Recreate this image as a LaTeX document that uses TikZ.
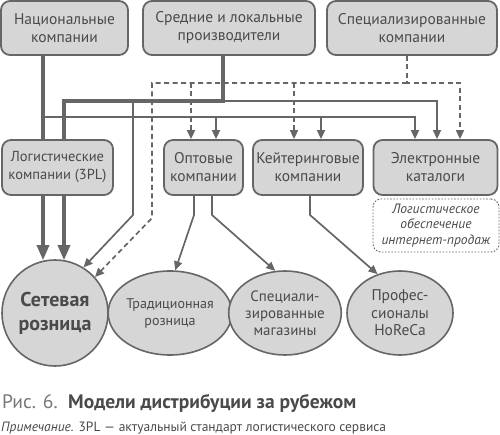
\documentclass[tikz,border=0pt]{standalone}
\usepackage{fontspec}
\setmainfont{PT Sans}
\usetikzlibrary{arrows.meta,shapes.geometric}
\definecolor{ln}{HTML}{666666}
\definecolor{bx}{HTML}{D6D6D6}
\definecolor{tx}{HTML}{4A4A4A}
\definecolor{lt}{HTML}{777777}
\begin{document}
\begin{tikzpicture}[x=1pt,y=-1pt,
  box/.style={draw=ln,line width=1.8pt,fill=bx,rounded corners=9pt,text=tx,align=center,
    font=\fontsize{15.5}{18}\selectfont,minimum height=54pt,inner sep=0pt},
  oval/.style={ellipse,draw=ln,line width=1.6pt,fill=bx,text=tx,align=center,inner sep=0pt,
    minimum width=106pt,minimum height=84pt},
  thinl/.style={draw=ln,line width=1.7pt},
  thickl/.style={draw=ln,line width=3.2pt},
  dsh/.style={draw=ln,line width=1.7pt,dash pattern=on 5pt off 3.5pt},
  tip/.style={-{Triangle[length=9pt,width=8pt]}},
  bigtip/.style={-{Triangle[length=15pt,width=12pt]}}]
\useasboundingbox (0,0) rectangle (500,435);

% top row
\node[box,minimum width=127pt] (nat) at (64.5,28) {Национальные\\компании};
\node[box,minimum width=172pt] (sred) at (229,28) {Средние и локальные\\производители};
\node[box,minimum width=170pt] (spec) at (412,28) {Специализированные\\компании};
% middle row
\node[box,minimum width=111pt,minimum height=55pt,font=\fontsize{14.5}{18}\selectfont] (log) at (57.5,167.5) {Логистические\\компании (3PL)};
\node[box,minimum width=79pt,minimum height=55pt] (opt) at (203.5,167.5) {Оптовые\\компании};
\node[box,minimum width=110pt,minimum height=55pt] (kei) at (308,167.5) {Кейтеринговые\\компании};
\node[box,minimum width=124pt,minimum height=55pt] (ekat) at (435.5,167.5) {Электронные\\каталоги};
\node[draw=ln,line width=0.9pt,dash pattern=on 1.6pt off 1.6pt,rounded corners=8pt,
  minimum width=126pt,minimum height=53pt,text=tx,align=center,inner sep=0pt,
  font=\itshape\fontsize{13.5}{15.5}\selectfont] (lnote) at (436,225.5)
  {Логистическое\\обеспечение\\интернет-продаж};
% bottom row
\node[oval,minimum width=106pt,minimum height=106pt,font=\bfseries\fontsize{20}{24}\selectfont] (set) at (55,313) {Сетевая\\розница};
\node[oval,minimum width=105pt,font=\fontsize{14}{17}\selectfont] (trad) at (170,313) {Традиционная\\розница};
\node[oval,font=\fontsize{15}{17}\selectfont] (specmag) at (285,313) {Специали-\\зированные\\магазины};
\node[oval,font=\fontsize{15.5}{17.5}\selectfont] (horeca) at (400,313) {Профес-\\сионалы\\HoReCa};

% routing points
\coordinate (j1) at (223,101);
\coordinate (j2) at (64,101);
\coordinate (j3) at (437,101);
\coordinate (c1) at (133,101);
\coordinate (c2) at (133,215);
\coordinate (n1) at (43,117);
\coordinate (n2) at (415,117);
\coordinate (a1) at (216,117);
\coordinate (a2) at (321,117);
\coordinate (s1) at (407,83);
\coordinate (s2) at (460,83);
\coordinate (s3) at (152,83);
\coordinate (s4) at (152,218);
\coordinate (d1) at (191,83);
\coordinate (d2) at (294,83);
\coordinate (o1) at (194,215);
\coordinate (o2) at (212,215);
\coordinate (k1) at (310,215);

% thick lines (via 3PL)
\draw[thickl] (nat.south -| n1) -- (log.north -| n1);
\draw[thickl,bigtip] (log.south -| n1) -- ([yshift=-1pt]set.north -| n1);
\draw[thickl] (sred.south -| j1) -- (j1) -- (j2) -- (log.north -| j2);
\draw[thickl,bigtip] (log.south -| j2) -- ([yshift=-1pt]set.north -| j2);

% thin solid lines
\draw[thinl,tip] (j1) -- (j3) -- (ekat.north -| j3);
\draw[thinl,tip] (c1) -- (c2) -- (set.58);
\draw[thinl,tip] (n1) -- (n2) -- (ekat.north -| n2);
\draw[thinl,tip] (a1) -- (opt.north -| a1);
\draw[thinl,tip] (a2) -- (kei.north -| a2);

% dashed lines
\draw[dsh,tip] (spec.south -| s1) -- (s1) -- (s2) -- (ekat.north -| s2);
\draw[dsh,tip] (s1) -- (s3) -- (s4) -- (set.42);
\draw[dsh,tip] (d1) -- (opt.north -| d1);
\draw[dsh,tip] (d2) -- (kei.north -| d2);

% lower connectors
\draw[thinl,tip] (opt.south -| o1) -- (o1) -- (trad.83);
\draw[thinl,tip] (opt.south -| o2) -- (o2) -- (specmag.103);
\draw[thinl,tip] (kei.south -| k1) -- (k1) -- (horeca.120);

% caption
\node[anchor=base west,inner sep=0pt,font=\fontsize{19.5}{23}\selectfont,text=tx] (cap) at (2,408)
  {\textcolor{lt}{Рис. 6.}\ \ \textbf{Модели дистрибуции за рубежом}};
\node[anchor=base west,inner sep=0pt,font=\fontsize{13.5}{15}\selectfont,text=tx] (cnote) at (1,431)
  {\textit{Примечание.} 3PL — актуальный стандарт логистического сервиса};
\end{tikzpicture}
\end{document}
